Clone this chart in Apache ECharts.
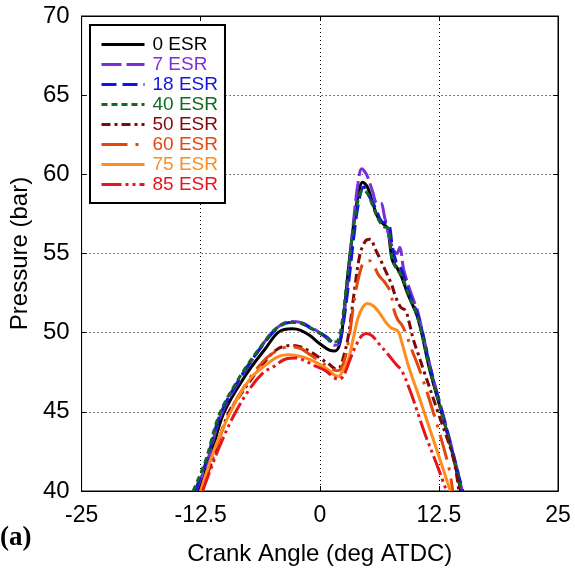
<!DOCTYPE html>
<html>
<head>
<meta charset="utf-8">
<script src="https://cdn.jsdelivr.net/npm/echarts@6/dist/echarts.min.js"></script>
<style>html,body{margin:0;padding:0;background:#fff;}#c{width:575px;height:571px;}</style>
</head>
<body>
<div id="c"></div>
<script>
// ---- data ----
const seriesNames = ['0 ESR','7 ESR','18 ESR','40 ESR','50 ESR','60 ESR','75 ESR','85 ESR'];
const xTicks = [-25, -12.5, 0, 12.5, 25];
const yTicks = [40, 45, 50, 55, 60, 65, 70];

const esr0 = [[-12.85,40],[-11.6,41.9],[-10.1,44.9],[-7.8,47.3],[-5.7,49.0],[-4.3,50.05],[-2.9,50.25],[-2,50.15],[-1,49.8],[0,49.3],[1,48.9],[1.6,48.85],[2.1,49.3],[2.5,51.0],[3,54.0],[3.5,56.6],[4,58.6],[4.5,59.5],[5,59.2],[5.5,58.3],[6,57.4],[6.6,56.9],[7.1,56.6],[7.6,54.6],[8.1,54.1],[8.6,53.5],[9.2,52.5],[10.3,50.9],[11.6,47.5],[13,44.5],[14,42.2],[14.8,40]];
const esr7 = [[-13.0,40],[-11.8,41.9],[-10.3,44.9],[-8.0,47.4],[-6.0,49.25],[-4.6,50.25],[-3.2,50.7],[-2,50.65],[-1,50.35],[0,50.0],[0.8,49.6],[1.5,49.2],[2.0,49.3],[2.4,50.5],[3.0,53.5],[3.5,56.8],[4.0,59.4],[4.4,60.35],[4.9,60.0],[5.5,59.0],[6.0,58.2],[6.4,58.2],[6.8,57.3],[7.5,55.6],[8.1,55.0],[8.4,55.4],[8.8,54.0],[9.4,52.8],[10.0,51.8],[10.3,51.3],[11.7,47.6],[13,44.7],[14.0,42.4],[14.95,40]];
const esr18 = [[-13.1,40],[-11.9,41.9],[-10.4,44.9],[-8.1,47.4],[-6.0,49.2],[-4.6,50.2],[-3.2,50.65],[-2,50.6],[-1,50.3],[0,50.0],[0.8,49.7],[1.5,49.35],[2.0,49.4],[2.4,50.3],[3.0,53.0],[3.6,56.2],[4.1,58.3],[4.6,59.2],[5.2,58.6],[5.9,57.8],[6.5,57.0],[7.2,56.9],[7.6,55.5],[8.0,54.5],[8.4,54.2],[8.8,53.6],[9.3,52.6],[10.4,50.9],[11.7,47.5],[13,44.6],[14,42.3],[15.0,40]];
const esr40 = [[-13.3,40],[-12.0,41.9],[-10.5,44.9],[-8.2,47.4],[-6.1,49.2],[-4.7,50.2],[-3.2,50.65],[-2,50.6],[-1,50.3],[0,49.95],[0.7,49.7],[1.4,49.4],[1.9,49.5],[2.3,50.5],[2.9,53.5],[3.5,56.5],[4.0,58.3],[4.5,59.0],[5.0,58.8],[5.5,58.1],[6.1,57.2],[6.7,56.7],[7.2,56.6],[7.6,54.6],[8.1,54.0],[8.6,53.6],[9.2,52.6],[10.3,50.9],[11.6,47.6],[13,44.5],[14,42.2],[14.85,40]];
const esr50 = [[-12.45,40],[-11.3,41.9],[-9.6,44.9],[-8.3,46.1],[-6.5,47.6],[-4.6,48.9],[-3,49.2],[-2,49.1],[-1,48.8],[0,48.4],[1,48.0],[1.7,47.7],[2.1,47.8],[2.5,48.5],[3,49.8],[3.6,52.5],[4.2,54.9],[4.8,55.8],[5.3,55.9],[5.8,55.3],[6.3,54.7],[6.9,53.9],[7.5,53.1],[8.0,52.2],[8.5,51.6],[9.0,51.4],[9.4,50.6],[9.8,49.6],[10.3,48.7],[10.8,47.8],[12.5,44.8],[14.0,42.1],[14.6,40]];
const esr60 = [[-12.5,40],[-11.2,42.2],[-9.5,44.9],[-7.6,46.9],[-5.6,48.4],[-4,49.0],[-3,49.1],[-2,49.0],[-1,48.6],[0,48.2],[1,47.8],[1.8,47.6],[2.2,47.7],[2.7,48.5],[3.2,50.2],[3.6,52.0],[4.2,53.8],[4.7,54.5],[5.2,54.55],[5.7,54.2],[6.2,53.6],[6.8,53.2],[7.4,52.6],[7.8,51.4],[8.2,50.8],[8.6,50.5],[9.0,50.0],[9.6,49.0],[10.5,47.6],[12.0,44.8],[13.5,41.6],[13.95,40]];
const esr75 = [[-12.5,40],[-10.9,42.9],[-9.2,45.2],[-7.3,47.1],[-5.7,47.95],[-4.3,48.5],[-3.2,48.6],[-2,48.5],[-1,48.3],[0,48.0],[1,47.6],[1.6,47.3],[2.0,47.25],[2.4,47.6],[3.0,48.3],[3.5,49.6],[4.0,50.9],[4.5,51.6],[5.0,51.85],[5.6,51.7],[6.2,51.3],[7.0,50.6],[7.5,50.3],[8.2,50.1],[8.6,49.4],[9.3,47.9],[10.5,45.8],[11.5,44.0],[12.5,42.2],[13.7,40]];
const esr85 = [[-12.3,40],[-10.6,42.7],[-9.0,44.8],[-7.3,46.5],[-5.9,47.5],[-5.0,47.8],[-3.5,48.35],[-2.5,48.4],[-1.5,48.2],[-0.5,47.9],[0.6,47.6],[1.4,47.2],[2.0,47.05],[2.4,47.2],[2.8,47.7],[3.3,48.5],[3.8,49.2],[4.4,49.8],[4.9,49.95],[5.5,49.8],[6.2,49.3],[7.2,48.6],[8.0,48.0],[8.6,47.6],[9.5,46.3],[10.3,44.9],[11.1,43.5],[12.2,41.8],[13.3,40]];

const seriesData = [esr0, esr7, esr18, esr40, esr50, esr60, esr75, esr85];
const colors = ['#000000','#7b2fd8','#1414e0','#106a20','#800808','#e0480e','#ff8c1e','#e8141c'];
const dashes = ['solid',[20,5],[15,6],[6,4],[9,4,3,4],[26,8,3,8],'solid',[20,4,3,4,3,4]];

const chart = echarts.init(document.getElementById('c'));
const FONT = 'Liberation Sans';
const option = {
  animation: false,
  backgroundColor: '#fff',
  grid: {left: 81, right: 17, top: 16, bottom: 78, show: true, borderColor: '#000', borderWidth: 1},
  legend: {
    orient: 'vertical', left: 90, top: 25,
    padding: [10, 7, 9, 10],
    borderColor: '#000', borderWidth: 2, backgroundColor: '#fff',
    itemWidth: 43, itemHeight: 14, itemGap: 1,
    itemStyle: {color: 'rgba(0,0,0,0)', borderWidth: 0, opacity: 0},
    lineStyle: {width: 3},
    textStyle: {fontFamily: FONT, fontSize: 19, padding: [0,0,0,3]},
    data: seriesNames.map((n, i) => ({name: n, textStyle: {color: colors[i]}}))
  },
  xAxis: [
    {type: 'value', min: -25, max: 25, interval: 12.5, position: 'bottom',
     axisLine: {onZero: false, lineStyle: {color: '#000'}},
     axisTick: {inside: true, length: 5, lineStyle: {color: '#000'}},
     axisLabel: {color: '#000', fontFamily: FONT, fontSize: 23, margin: 13,
       formatter: v => xTicks.includes(v) ? String(v) : ''},
     splitLine: {show: true, lineStyle: {color: '#000', type: [1, 3], width: 1}},
     name: 'Crank Angle (deg ATDC)', nameLocation: 'middle', nameGap: 51,
     nameTextStyle: {color: '#000', fontFamily: FONT, fontSize: 24}},
    {type: 'value', min: -25, max: 25, interval: 12.5, position: 'top',
     axisLine: {onZero: false, lineStyle: {color: '#000'}},
     axisTick: {inside: true, length: 5, lineStyle: {color: '#000'}},
     axisLabel: {show: false}, splitLine: {show: false}}
  ],
  yAxis: [
    {type: 'value', min: 40, max: 70, interval: 5, position: 'left',
     axisLine: {show: true, onZero: false, lineStyle: {color: '#000'}},
     axisTick: {show: true, inside: true, length: 5, lineStyle: {color: '#000'}},
     axisLabel: {color: '#000', fontFamily: FONT, fontSize: 24, margin: 12,
       formatter: v => yTicks.includes(v) ? String(v) : ''},
     splitLine: {show: true, lineStyle: {color: '#000', type: [1, 3], width: 1}},
     name: 'Pressure (bar)', nameLocation: 'middle', nameGap: 45,
     nameTextStyle: {color: '#000', fontFamily: FONT, fontSize: 24}},
    {type: 'value', min: 40, max: 70, interval: 5, position: 'right',
     axisLine: {show: true, onZero: false, lineStyle: {color: '#000'}},
     axisTick: {show: true, inside: true, length: 5, lineStyle: {color: '#000'}},
     axisLabel: {show: false}, splitLine: {show: false}}
  ],
  graphic: [{
    type: 'text', left: 0, top: 525,
    style: {text: '(a)', font: 'bold 27px "Liberation Serif"', fill: '#000'}
  }],
  series: seriesNames.map((n, i) => ({
    name: n, type: 'line', data: seriesData[i], xAxisIndex: 0, yAxisIndex: 0,
    smooth: 0.35, symbol: 'none', clip: true,
    lineStyle: {color: colors[i], width: 3, type: dashes[i]},
    itemStyle: {color: colors[i]}
  }))
};
chart.setOption(option);
</script>
</body>
</html>
